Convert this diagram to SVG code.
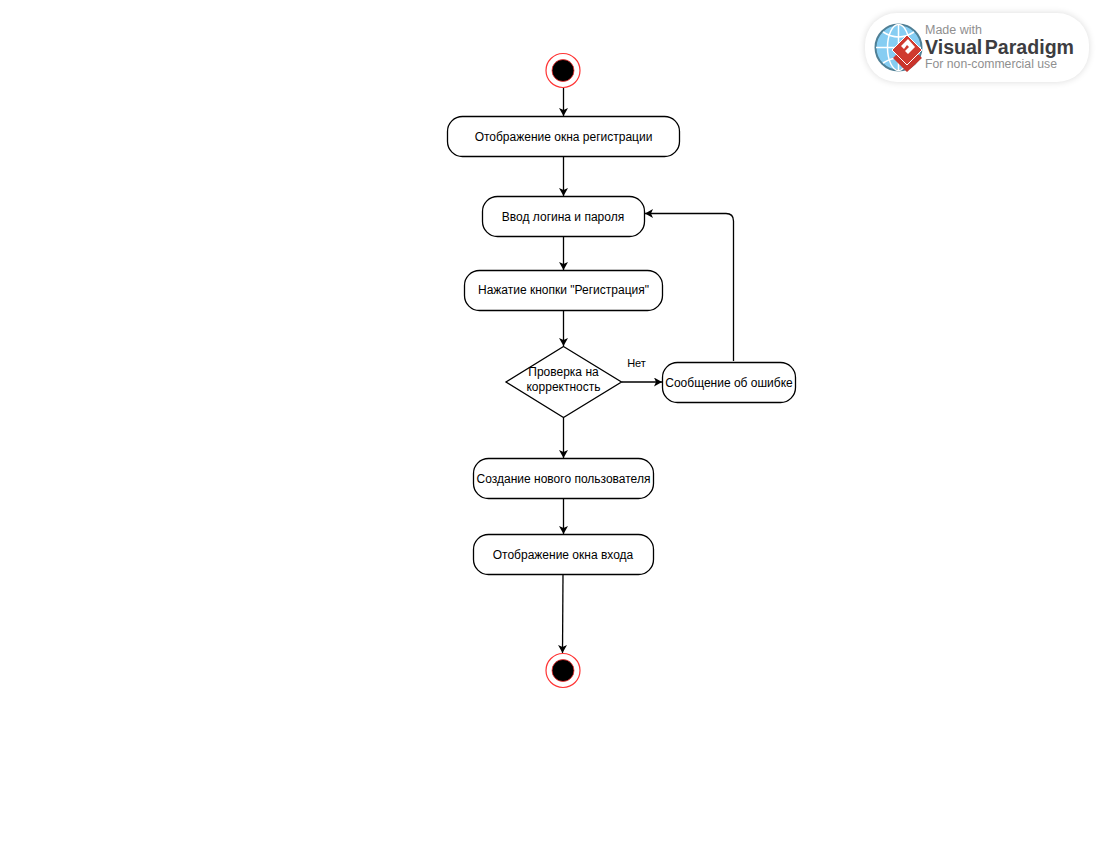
<svg xmlns="http://www.w3.org/2000/svg" width="1100" height="850" viewBox="0 0 1100 850">
<style>
text{font-family:"Liberation Sans",Arial,sans-serif;font-size:12px;fill:#000;text-anchor:middle}
.n{fill:#fff;stroke:#000;stroke-width:1.3}
.o{fill:#fff;stroke:#ff3333;stroke-width:1.2}
.i{fill:#000;stroke:#ff3333;stroke-width:.8}
.c{fill:none;stroke:#000;stroke-width:1.3;marker-end:url(#a)}
.w{text-anchor:start;fill:#8f8f8f}
</style>
<defs>
<marker id="a" markerUnits="userSpaceOnUse" markerWidth="10" markerHeight="10" refX="8" refY="4.5" orient="auto"><path d="M0 0L8 4.5L0 9L2 4.5Z" fill="#000"/></marker>
<filter id="s" x="-10%" y="-25%" width="120%" height="150%"><feGaussianBlur stdDeviation="3.500"/></filter>
</defs>
<rect width="1100" height="850" fill="#fff"/>
<g id="connectors">
<path class="c" d="M563.500 88V116"/>
<path class="c" d="M563.500 156.500V196"/>
<path class="c" d="M563.500 236.500V270"/>
<path class="c" d="M563.500 310.500V346"/>
<path class="c" d="M621.500 382H662"/>
<path class="c" d="M733.500 361V221Q733.500 213.500 726 213.500H645"/>
<path class="c" d="M563.500 418V458"/>
<path class="c" d="M563.500 498.500V534"/>
<path class="c" d="M563 574.500L562.500 653"/>
</g>
<text id="label-no" x="636.500" y="367" style="font-size:11px">Нет</text>
<g id="start"><circle class="o" cx="563" cy="70.500" r="17"/><circle class="i" cx="563" cy="70.500" r="11"/></g>
<g id="show-registration"><rect class="n" x="447.500" y="116.500" width="232" height="40" rx="15"/><text x="563.500" y="141">Отображение окна регистрации</text></g>
<g id="enter-credentials"><rect class="n" x="482.500" y="196.500" width="162" height="40" rx="15"/><text x="563" y="221">Ввод логина и пароля</text></g>
<g id="press-button"><rect class="n" x="464.500" y="270.500" width="198" height="40" rx="15"/><text x="563.500" y="294">Нажатие кнопки "Регистрация"</text></g>
<g id="check"><path class="n" d="M563.500 346.500L621.500 382L563.500 417.500L506 382Z"/><text x="563.500" y="376">Проверка на</text><text x="563.500" y="391">корректность</text></g>
<g id="error"><rect class="n" x="662.500" y="362.500" width="133" height="40" rx="15"/><text x="729" y="387">Сообщение об ошибке</text></g>
<g id="create-user"><rect class="n" x="473.500" y="458.500" width="180" height="40" rx="15"/><text x="563.500" y="483">Создание нового пользователя</text></g>
<g id="show-login"><rect class="n" x="473.500" y="534.500" width="180" height="40" rx="15"/><text x="563" y="559">Отображение окна входа</text></g>
<g id="end"><circle class="o" cx="563" cy="670.500" r="17"/><circle class="i" cx="563" cy="670.500" r="11"/></g>
<g id="watermark">
<rect x="865" y="13" width="224" height="69" rx="32" fill="#000" opacity=".14" filter="url(#s)"/>
<rect x="865" y="13" width="224" height="69" rx="32" fill="#fff"/>
<circle cx="898.500" cy="47.500" r="23" fill="#86cdf2" stroke="#4f7f95" stroke-width="2"/>
<path d="M876 47.500H921M898.500 25V70M883 32Q898.500 42 914 32M883 63Q898.500 53 914 63" fill="none" stroke="#fff" stroke-width="1.500"/>
<ellipse cx="898.500" cy="47.500" rx="11" ry="23" fill="none" stroke="#fff" stroke-width="1.500"/>
<path d="M893 58L907 72L922 58L918 54L907 65L897 54Z" fill="#c9342c"/>
<path d="M907 35L922 50L907 65L892 50Z" fill="#cf3a2f" stroke="#fff" stroke-width="1"/>
<path d="M901 46L908 39L915 47L908 54L905 51L909 47L907 45L904 49Z" fill="#fff"/>
<text class="w" x="925" y="34" style="font-size:12px" textLength="57" lengthAdjust="spacingAndGlyphs">Made with</text>
<text class="w" x="925" y="53.500" style="font-size:20px;font-weight:bold;fill:#3d3d41;word-spacing:-3px" textLength="149" lengthAdjust="spacingAndGlyphs">Visual Paradigm</text>
<text class="w" x="925" y="68" style="font-size:12px" textLength="132" lengthAdjust="spacingAndGlyphs">For non-commercial use</text>
</g>
</svg>
